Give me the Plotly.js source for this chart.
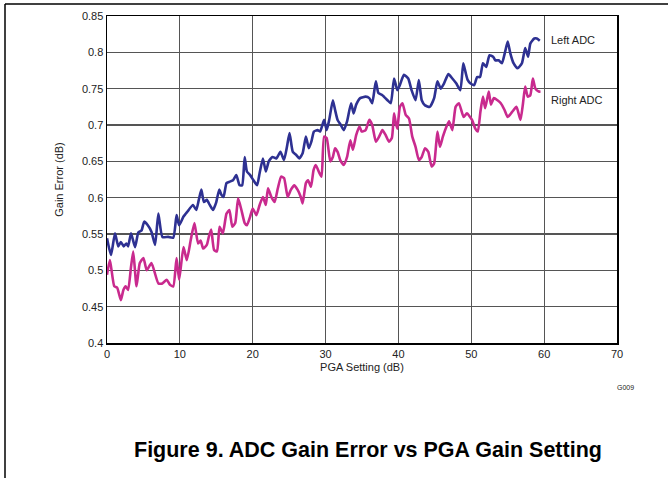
<!DOCTYPE html>
<html>
<head>
<meta charset="utf-8">
<script src="https://cdn.plot.ly/plotly-3.0.1.min.js"></script>
<style>html,body{margin:0;padding:0;background:#fff;}#chart{width:668px;height:478px;}</style>
</head>
<body>
<div id="chart"></div>
<script>
// PGA setting (dB) and gain error (dB)
const leftX = [0,0.55,1.1,1.55,1.9,2.3,2.65,2.9,3.3,3.85,4.3,4.75,5.1,5.6,6.1,6.6,7.05,7.6,8.4,9.1,9.55,9.9,10.5,11.05,11.8,12.25,12.6,12.95,13.3,13.7,14.1,14.55,15,15.4,15.7,16,16.4,16.85,17.3,17.75,18.2,18.55,18.9,19.2,19.65,20.1,20.6,20.95,21.4,21.8,22.2,22.7,23.25,23.8,24.3,24.7,25.05,25.5,25.95,26.4,26.85,27.3,27.7,28.05,28.4,28.9,29.25,29.8,30.15,30.5,31,31.3,31.65,32.1,32.5,32.95,33.5,33.85,34.2,34.75,35.5,36,36.4,36.9,37.25,37.8,38.5,38.95,39.4,39.85,40.2,40.75,41.35,41.8,42.35,42.8,43.2,43.65,44.3,44.9,45.35,45.8,46.25,46.85,47.4,47.95,48.5,48.9,49.2,49.5,49.9,50.4,50.8,51.2,51.6,52.05,52.5,53,53.3,53.75,54.2,54.65,55,55.35,55.8,56.35,56.95,57.4,57.8,58.1,58.65,59,59.4];
const leftY = [0.544,0.521,0.551,0.533,0.539,0.533,0.537,0.533,0.551,0.532,0.552,0.555,0.567,0.562,0.553,0.535,0.578,0.546,0.546,0.545,0.576,0.562,0.574,0.581,0.59,0.583,0.597,0.611,0.594,0.597,0.59,0.583,0.594,0.611,0.604,0.601,0.62,0.622,0.624,0.631,0.617,0.617,0.656,0.636,0.631,0.624,0.617,0.634,0.654,0.636,0.65,0.656,0.654,0.663,0.652,0.67,0.689,0.663,0.659,0.654,0.661,0.684,0.668,0.677,0.691,0.693,0.691,0.707,0.693,0.707,0.734,0.721,0.707,0.7,0.693,0.705,0.73,0.716,0.728,0.737,0.739,0.737,0.73,0.76,0.744,0.741,0.734,0.73,0.764,0.748,0.755,0.769,0.764,0.748,0.734,0.762,0.734,0.727,0.725,0.737,0.76,0.75,0.757,0.77,0.764,0.757,0.748,0.785,0.773,0.762,0.757,0.755,0.766,0.766,0.785,0.78,0.796,0.794,0.789,0.789,0.785,0.801,0.815,0.799,0.785,0.778,0.785,0.806,0.794,0.812,0.819,0.819,0.816];
const rightX = [0,0.4,1,1.4,1.9,2.25,2.55,2.9,3.3,3.6,4.05,4.5,5,5.45,6.1,7.05,7.6,8.2,8.65,9.1,9.55,9.9,10.5,10.95,11.5,12,12.5,12.85,13.2,13.7,14,14.3,14.7,15.1,15.45,15.9,16.4,16.8,17.2,17.6,18,18.45,18.9,19.2,19.65,20,20.5,20.95,21.4,21.8,22.1,22.55,23,23.45,23.9,24.3,24.8,25.25,25.7,26.15,26.6,26.85,27.3,27.6,28,28.35,28.65,29.15,29.45,29.8,30.15,30.65,31,31.3,31.65,32,32.5,32.95,33.4,33.75,34.2,34.65,34.95,35.5,36,36.4,36.9,37.35,37.8,38.25,38.7,39.1,39.4,39.65,39.85,40.2,40.55,41,41.45,41.9,42.35,42.8,43.2,43.65,44.1,44.55,44.9,45.35,45.7,46.1,46.6,46.95,47.4,47.85,48.3,48.95,49.4,50.1,50.55,50.9,51.25,51.6,51.9,52.4,52.7,53.1,53.6,54.05,54.55,55,55.6,56.2,56.75,57.1,57.4,57.75,58.1,58.45,58.8,59.25,59.5];
const rightY = [0.494,0.514,0.478,0.476,0.459,0.473,0.478,0.473,0.505,0.526,0.478,0.51,0.517,0.5,0.51,0.482,0.482,0.487,0.48,0.478,0.517,0.487,0.532,0.514,0.542,0.565,0.537,0.541,0.53,0.535,0.547,0.556,0.528,0.526,0.56,0.551,0.578,0.583,0.56,0.565,0.599,0.583,0.565,0.562,0.574,0.585,0.576,0.59,0.601,0.59,0.613,0.601,0.594,0.613,0.629,0.627,0.601,0.611,0.617,0.611,0.601,0.592,0.62,0.624,0.615,0.638,0.645,0.634,0.629,0.684,0.682,0.65,0.656,0.668,0.663,0.652,0.645,0.656,0.679,0.666,0.686,0.698,0.691,0.693,0.707,0.7,0.677,0.684,0.693,0.686,0.677,0.682,0.716,0.702,0.695,0.725,0.73,0.714,0.709,0.684,0.67,0.652,0.656,0.668,0.663,0.643,0.647,0.691,0.67,0.684,0.698,0.705,0.693,0.725,0.73,0.711,0.716,0.707,0.695,0.691,0.718,0.739,0.723,0.746,0.728,0.737,0.734,0.73,0.721,0.711,0.718,0.725,0.707,0.73,0.753,0.739,0.741,0.764,0.75,0.746,0.746];
const seriesNames = ["Left ADC", "Right ADC"];
const xTicks = [0,10,20,30,40,50,60,70];
const yTicks = [0.4,0.45,0.5,0.55,0.6,0.65,0.7,0.75,0.8,0.85];

const font = "Liberation Sans, Arial, sans-serif";
const traces = [
  {x: leftX, y: leftY, name: seriesNames[0], mode: "lines", line: {color: "#2e3192", width: 2.6, shape: "spline", smoothing: 0.5}},
  {x: rightX, y: rightY, name: seriesNames[1], mode: "lines", line: {color: "#c92a8e", width: 2.6, shape: "spline", smoothing: 0.5}}
];
const axisCommon = {showline: true, linecolor: "#000", linewidth: 1.5, mirror: true, showgrid: true, gridcolor: "#555", gridwidth: 1.2, zeroline: false, ticks: "", tickfont: {family: font, size: 11, color: "#222"}};
const layout = {
  width: 668, height: 478,
  margin: {l: 107, r: 51, t: 16, b: 135},
  paper_bgcolor: "#fff", plot_bgcolor: "#fff",
  showlegend: false,
  font: {family: font, color: "#222"},
  xaxis: Object.assign({}, axisCommon, {range: [0, 70], tickvals: xTicks, ticktext: xTicks.map(String),
    title: {text: "PGA Setting (dB)", font: {family: font, size: 11, color: "#222"}, standoff: 4}}),
  yaxis: Object.assign({}, axisCommon, {range: [0.4, 0.85], tickvals: yTicks, ticktext: yTicks.map(String),
    title: {text: "Gain Error (dB)", font: {family: font, size: 11, color: "#222"}, standoff: 16}}),
  annotations: [
    {x: 60.6, y: 0.817, xref: "x", yref: "y", text: seriesNames[0], showarrow: false, xanchor: "left", font: {family: font, size: 11, color: "#222"}},
    {x: 60.6, y: 0.735, xref: "x", yref: "y", text: seriesNames[1], showarrow: false, xanchor: "left", font: {family: font, size: 11, color: "#222"}},
    {x: 1.037, y: -0.135, xref: "paper", yref: "paper", text: "G009", showarrow: false, xanchor: "right", yanchor: "middle", font: {family: font, size: 7, color: "#222"}},
    {x: 0.512, y: -0.327, xref: "paper", yref: "paper", text: "<b>Figure 9. ADC Gain Error vs PGA Gain Setting</b>", showarrow: false, xanchor: "center", yanchor: "middle", font: {family: font, size: 21.5, color: "#000"}}
  ],
  shapes: [
    {type: "line", xref: "paper", yref: "paper", x0: -0.2, x1: -0.2, y0: 1.0367, y1: -0.45, line: {color: "#000", width: 1.5}},
    {type: "line", xref: "paper", yref: "paper", x0: -0.2, x1: 1.2, y0: 1.0367, y1: 1.0367, line: {color: "#000", width: 1.5}}
  ]
};
Plotly.newPlot("chart", traces, layout, {displayModeBar: false, staticPlot: true});
</script>
</body>
</html>
